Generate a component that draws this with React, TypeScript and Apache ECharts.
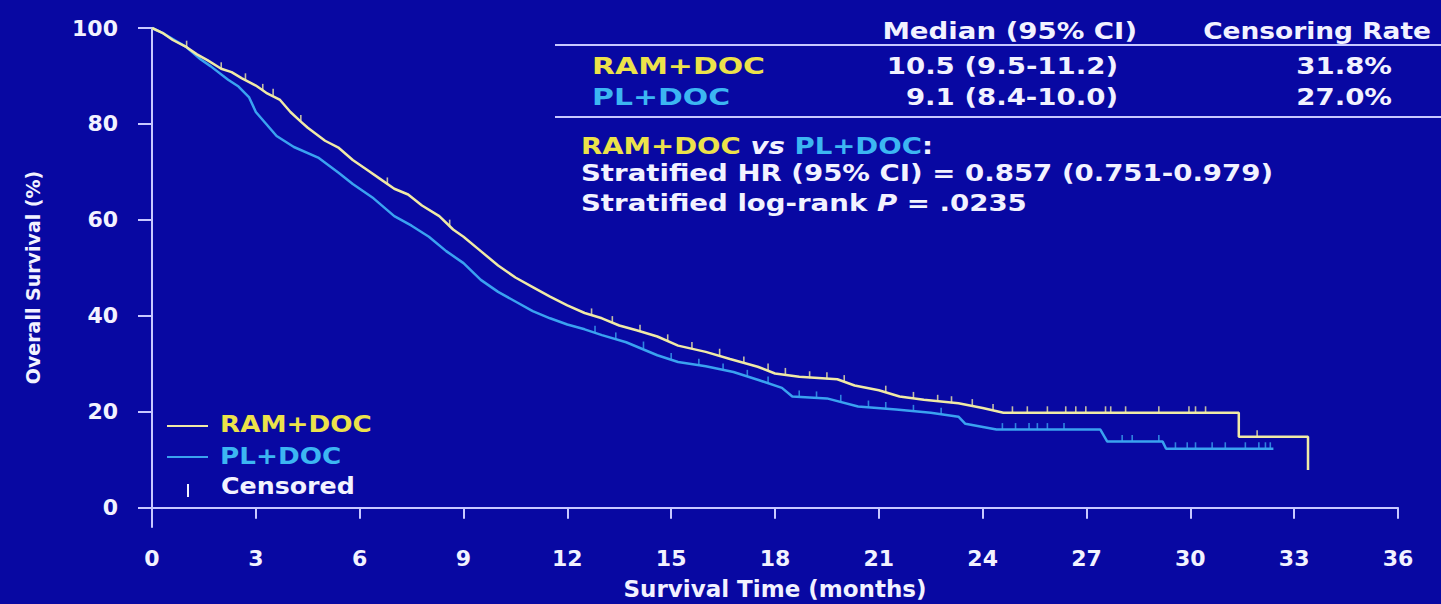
import React, { useEffect, useRef } from "react";
import * as echarts from "echarts";

// ---- Data ----
const xTicks = [0, 3, 6, 9, 12, 15, 18, 21, 24, 27, 30, 33, 36];
const yTicks = [0, 20, 40, 60, 80, 100];

const ramMonths = [0, 0.3, 0.6, 1.0, 1.3, 1.6, 2.0, 2.3, 2.6, 3.0, 3.3, 3.7, 4.0, 4.3, 4.5, 5.0, 5.4, 5.8, 6.2, 6.6, 7.0, 7.4, 7.8, 8.3, 8.7, 9.0, 9.5, 10.0, 10.5, 11.0, 11.5, 12.0, 12.5, 13.0, 13.5, 14.0, 14.6, 15.2, 16.0, 16.7, 17.5, 18.0, 18.7, 19.8, 20.3, 21.0, 21.6, 22.3, 23.3, 24.0, 24.6, 31.4, 31.4, 33.4, 33.4];
const ramSurvival = [100, 99, 97.5, 96, 94.5, 93.3, 91.5, 90.8, 89.5, 88, 86.5, 85, 82.5, 80.5, 79.2, 76.5, 75, 72.5, 70.5, 68.5, 66.5, 65.3, 63, 60.8, 58, 56.5, 53.5, 50.5, 48, 46, 44, 42.2, 40.6, 39.5, 38, 37, 35.7, 33.8, 32.5, 31, 29.4, 28, 27.3, 26.8, 25.5, 24.5, 23.2, 22.5, 21.8, 20.8, 19.8, 19.8, 14.8, 14.8, 7.9];

const plMonths = [0, 0.3, 0.7, 1.0, 1.4, 1.7, 2.2, 2.5, 2.8, 3.0, 3.3, 3.6, 4.1, 4.8, 5.4, 5.8, 6.4, 7.0, 7.5, 8.0, 8.5, 9.0, 9.5, 10.0, 10.5, 11.0, 11.5, 12.0, 12.5, 13.0, 13.7, 14.6, 15.2, 16.0, 16.8, 17.5, 18.2, 18.5, 19.5, 20.4, 21.5, 22.5, 23.3, 23.5, 24.4, 27.4, 27.6, 29.2, 29.3, 32.4];
const plSurvival = [100, 99, 97.3, 96, 93.5, 92, 89.2, 87.8, 85.6, 82.5, 80, 77.5, 75.2, 73, 69.8, 67.5, 64.5, 60.8, 58.8, 56.5, 53.5, 51, 47.5, 45, 43, 41, 39.5, 38.2, 37.2, 36, 34.5, 31.8, 30.4, 29.5, 28.3, 26.7, 25, 23.2, 22.8, 21.1, 20.5, 19.8, 19.0, 17.5, 16.3, 16.3, 13.8, 13.8, 12.3, 12.3];

const ramCensorMonths = [1.0, 2.0, 2.7, 3.2, 3.5, 4.3, 6.8, 8.6, 12.7, 13.3, 14.1, 14.9, 15.6, 16.4, 17.1, 17.8, 18.3, 19.0, 19.5, 20.0, 21.2, 22.0, 22.7, 23.1, 23.7, 24.3, 24.86, 25.29, 25.87, 26.4, 26.69, 26.98, 27.55, 27.7, 28.13, 29.09, 29.96, 30.15, 30.44, 31.93];
const ramCensorSurvival = [96, 91.5, 89.2, 87, 86, 80.5, 67.5, 58.7, 40.2, 38.6, 36.8, 34.8, 33.2, 31.8, 30.2, 28.7, 27.8, 27.1, 26.9, 26.3, 24.1, 22.8, 22.2, 21.9, 21.3, 20.3, 19.8, 19.8, 19.8, 19.8, 19.8, 19.8, 19.8, 19.8, 19.8, 19.8, 19.8, 19.8, 19.8, 14.8];

const plCensorMonths = [12.8, 13.4, 14.2, 15.0, 15.8, 16.5, 17.2, 17.8, 18.7, 19.2, 19.9, 20.7, 21.2, 22.0, 22.8, 24.57, 24.95, 25.34, 25.58, 25.87, 26.35, 28.03, 28.32, 29.09, 29.57, 29.91, 30.15, 30.63, 31.01, 31.59, 31.98, 32.17, 32.31];
const plCensorSurvival = [36.6, 35.2, 33.3, 30.9, 29.7, 28.7, 27.4, 26.0, 23.1, 22.9, 22.2, 21.0, 20.7, 20.1, 19.5, 16.3, 16.3, 16.3, 16.3, 16.3, 16.3, 13.8, 13.8, 13.8, 12.3, 12.3, 12.3, 12.3, 12.3, 12.3, 12.3, 12.3, 12.3];

const arms = ["RAM+DOC", "PL+DOC"];
const tableHeaders = ["Median (95% CI)", "Censoring Rate"];
const medians = ["10.5 (9.5-11.2)", "9.1 (8.4-10.0)"];
const censoringRates = ["31.8%", "27.0%"];
const hrLine = "Stratified HR (95% CI) = 0.857 (0.751-0.979)";
const pValue = ".0235";
const xAxisTitle = "Survival Time (months)";
const yAxisTitle = "Overall Survival (%)";
const censoredLabel = "Censored";

// ---- Styles ----
const BG = "#0808a2";
const AXIS = "#c8c8ff";
const TEXT = "#f2f2ff";
const YELLOW_TEXT = "#ece24a";
const CYAN_TEXT = "#3cb6f2";
const RAM_LINE = "#f0eaa6";
const PL_LINE = "#3aa2f0";
const FAM = '"DejaVu Sans", "Liberation Sans", sans-serif';
const font = (size: number, style = "normal") => `${style} bold ${size}px ${FAM}`;

const pairs = (xs: number[], ys: number[]) => xs.map((x, i) => [x, ys[i]]);

function txt(text: string, x: number, y: number, fill: string, opts: any = {}) {
  return {
    type: "text",
    x,
    y,
    scaleX: opts.scaleX ?? 1.2,
    silent: true,
    style: {
      text,
      fill,
      font: font(opts.size ?? 23),
      align: opts.align ?? "left",
      verticalAlign: "middle",
      rich: opts.rich,
    },
  };
}

export default function App() {
  const ref = useRef<HTMLDivElement>(null);
  useEffect(() => {
    const chart = echarts.init(ref.current!, null, { renderer: "svg" });
    const richBase = (fill: string, style = "normal") => ({ fill, font: font(23, style) });
    const option: any = {
      animation: false,
      backgroundColor: BG,
      grid: { left: 152, right: 43, top: 28, bottom: 77, containLabel: false, outerBoundsMode: "none" },
      xAxis: {
        type: "value",
        min: 0,
        max: 36,
        interval: 3,
        name: xAxisTitle,
        nameLocation: "middle",
        nameGap: 50,
        nameTextStyle: { color: TEXT, fontFamily: FAM, fontWeight: "bold", fontSize: 23, lineHeight: 24 },
        axisLine: { show: true, lineStyle: { color: AXIS, width: 2 } },
        axisTick: { show: true, length: 11, lineStyle: { color: AXIS, width: 2 } },
        axisLabel: { color: TEXT, fontFamily: FAM, fontWeight: "bold", fontSize: 22, margin: 20 },
        splitLine: { show: false },
      },
      yAxis: {
        type: "value",
        min: -4,
        max: 100,
        name: yAxisTitle,
        nameLocation: "middle",
        nameGap: 110,
        nameRotate: 90,
        nameTextStyle: { color: TEXT, fontFamily: FAM, fontWeight: "bold", fontSize: 19 },
        axisLine: { show: true, lineStyle: { color: AXIS, width: 2 } },
        axisTick: { show: true, length: 14, customValues: yTicks, lineStyle: { color: AXIS, width: 2 } },
        axisLabel: { color: TEXT, fontFamily: FAM, fontWeight: "bold", fontSize: 22, margin: 34, customValues: yTicks },
        splitLine: { show: false },
      },
      series: [
        {
          name: arms[1],
          type: "line",
          data: pairs(plMonths, plSurvival),
          showSymbol: false,
          lineStyle: { color: PL_LINE, width: 2.5 },
          z: 2,
        },
        {
          name: arms[0],
          type: "line",
          data: pairs(ramMonths, ramSurvival),
          showSymbol: false,
          lineStyle: { color: RAM_LINE, width: 2.5 },
          z: 3,
        },
        {
          name: "PL censored",
          type: "scatter",
          data: pairs(plCensorMonths, plCensorSurvival),
          symbol: "rect",
          symbolSize: [1.6, 7],
          symbolOffset: [0, -3],
          itemStyle: { color: PL_LINE },
          z: 2,
        },
        {
          name: "RAM censored",
          type: "scatter",
          data: pairs(ramCensorMonths, ramCensorSurvival),
          symbol: "rect",
          symbolSize: [1.6, 7],
          symbolOffset: [0, -3],
          itemStyle: { color: RAM_LINE },
          z: 3,
        },
      ],
      graphic: [
        // table
        txt(tableHeaders[0], 1137, 31, TEXT, { align: "right" }),
        txt(tableHeaders[1], 1431, 31, TEXT, { align: "right", scaleX: 1.15 }),
        { type: "line", silent: true, shape: { x1: 555, y1: 45, x2: 1441, y2: 45 }, style: { stroke: AXIS, lineWidth: 2 } },
        txt(arms[0], 592, 66, YELLOW_TEXT, { scaleX: 1.3 }),
        txt(medians[0], 1118, 66, TEXT, { align: "right" }),
        txt(censoringRates[0], 1392, 66, TEXT, { align: "right" }),
        txt(arms[1], 592, 97, CYAN_TEXT, { scaleX: 1.3 }),
        txt(medians[1], 1118, 97, TEXT, { align: "right" }),
        txt(censoringRates[1], 1392, 97, TEXT, { align: "right" }),
        { type: "line", silent: true, shape: { x1: 555, y1: 117, x2: 1441, y2: 117 }, style: { stroke: AXIS, lineWidth: 2 } },
        txt(`{a|${arms[0]}} {v|vs} {b|${arms[1]}}{w|:}`, 581, 146, TEXT, {
          rich: { a: richBase(YELLOW_TEXT), v: richBase(TEXT, "italic"), b: richBase(CYAN_TEXT), w: richBase(TEXT) },
        }),
        txt(hrLine, 581, 173, TEXT),
        txt(`{n|Stratified log-rank }{p|P}{n| = ${pValue}}`, 581, 203, TEXT, {
          rich: { n: richBase(TEXT), p: richBase(TEXT, "italic") },
        }),
        // legend
        { type: "line", silent: true, shape: { x1: 167, y1: 426, x2: 208, y2: 426 }, style: { stroke: RAM_LINE, lineWidth: 2 } },
        txt(arms[0], 220, 424, YELLOW_TEXT, { scaleX: 1.14 }),
        { type: "line", silent: true, shape: { x1: 167, y1: 457, x2: 208, y2: 457 }, style: { stroke: PL_LINE, lineWidth: 2 } },
        txt(arms[1], 220, 456, CYAN_TEXT, { scaleX: 1.14 }),
        { type: "line", silent: true, shape: { x1: 188, y1: 484, x2: 188, y2: 497 }, style: { stroke: TEXT, lineWidth: 2 } },
        txt(censoredLabel, 221, 486, TEXT, { scaleX: 1.1 }),
      ],
    };
    chart.setOption(option);
    return () => chart.dispose();
  }, []);
  return <div ref={ref} style={{ position: "fixed", left: 0, top: 0, width: 1441, height: 604 }} />;
}
